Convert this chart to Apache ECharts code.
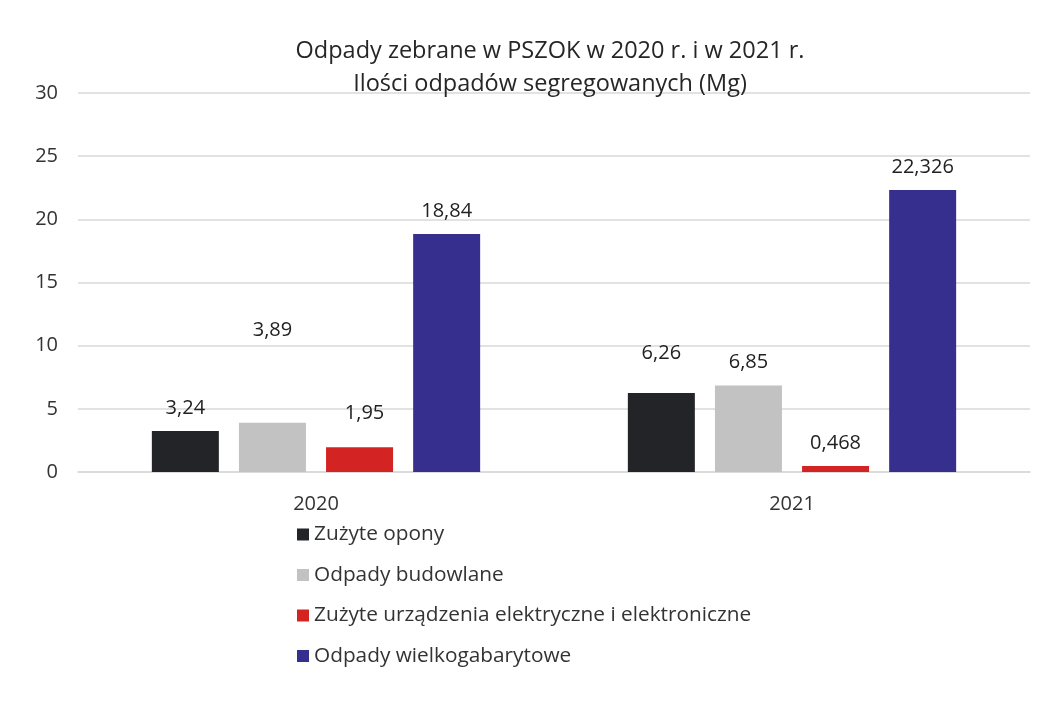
<!DOCTYPE html>
<html><head><meta charset="utf-8">
<script src="https://cdn.jsdelivr.net/npm/echarts@6/dist/echarts.min.js"></script>
<style>html,body{margin:0;padding:0;background:#fff}#c{width:1044px;height:710px}</style>
</head><body><div id="c"></div>
<script>
const titleLines = ['Odpady zebrane w PSZOK w 2020 r. i w 2021 r.', 'Ilości odpadów segregowanych (Mg)'];
const categories = ['2020', '2021'];
const seriesNames = ['Zużyte opony', 'Odpady budowlane', 'Zużyte urządzenia elektryczne i elektroniczne', 'Odpady wielkogabarytowe'];
const zuzyteOpony = [3.24, 6.26];
const odpadyBudowlane = [3.89, 6.85];
const zuzyteUrzadzenia = [1.95, 0.468];
const odpadyWielkogabarytowe = [18.84, 22.326];
const yTicks = [0, 5, 10, 15, 20, 25, 30];

const values = [zuzyteOpony, odpadyBudowlane, zuzyteUrzadzenia, odpadyWielkogabarytowe];
const colors = ['#232427', '#c2c2c2', '#d42323', '#372f8e'];
// extra label lift in px (reference places a few labels higher)
const labelLift = [[0, 17], [70, 0], [11, 0], [0, 0]];
const labelShiftX = [[0, 0], [0, 0], [5, 0], [0, 0]];
const FONT = '"Open Sans", "Liberation Sans", sans-serif';

const chart = echarts.init(document.getElementById('c'), null, {renderer: 'canvas'});
chart.setOption({
  backgroundColor: '#fff',
  animation: false,
  title: {
    text: titleLines.join('\n'),
    left: 545, textAlign: 'center', top: 30,
    textStyle: {fontFamily: FONT, fontSize: 23.5, fontWeight: 'normal', color: '#262626', lineHeight: 33}
  },
  grid: {left: 78, right: 14, top: 93, bottom: 238},
  legend: {
    orient: 'vertical', left: 292, top: 519,
    itemWidth: 12, itemHeight: 12, itemGap: 19.5, icon: 'rect',
    textStyle: {fontFamily: FONT, fontSize: 20.8, color: '#333'},
    data: seriesNames
  },
  xAxis: {
    type: 'category', data: categories,
    axisLine: {show: true, lineStyle: {color: '#d9d9d9', width: 1.5}},
    axisTick: {show: false},
    axisLabel: {fontFamily: FONT, fontSize: 20, color: '#333', margin: 22}
  },
  yAxis: {
    type: 'value', min: yTicks[0], max: yTicks[yTicks.length - 1], interval: yTicks[1] - yTicks[0],
    axisLine: {show: false}, axisTick: {show: false},
    splitLine: {lineStyle: {color: '#d9d9d9', width: 1.5}},
    axisLabel: {fontFamily: FONT, fontSize: 20, color: '#333', margin: 20}
  },
  series: seriesNames.map((name, i) => ({
    name, type: 'bar', barWidth: 67, barGap: '30%',
    itemStyle: {color: colors[i]},
    data: values[i].map((v, j) => ({
      value: v,
      label: {offset: [labelShiftX[i][j], -labelLift[i][j]]}
    })),
    label: {
      show: true, position: 'top', distance: 13,
      fontFamily: FONT, fontSize: 20, color: '#222',
      formatter: p => String(p.value).replace('.', ',')
    }
  }))
});
</script></body></html>
